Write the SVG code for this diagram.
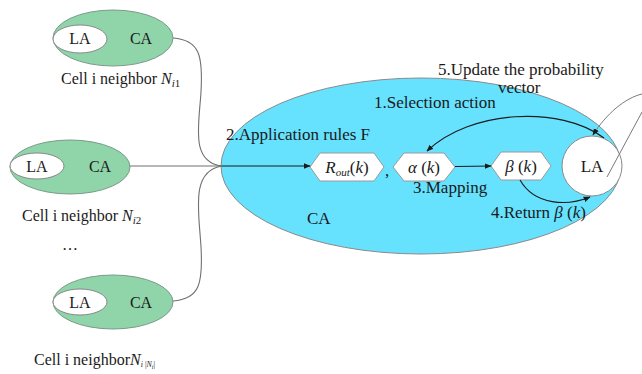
<svg xmlns="http://www.w3.org/2000/svg" width="642" height="374" viewBox="0 0 642 374" font-family="'Liberation Serif', 'Times New Roman', Times, serif">
  <style>
    text { font-family: 'Liberation Serif', 'Times New Roman', Times, serif; fill: #1a1a1a; }
    .lbl { font-size: 17px; }
    .small { font-size: 16px; }
    .it { font-style: italic; }
    .sub { font-size: 11px; }
    .cell { fill: #90d4a9; stroke: #7a9a88; stroke-width: 1; }
    .inner { fill: #ffffff; stroke: #888888; stroke-width: 1; }
    .hex { fill: #ffffff; stroke: #9a9a9a; stroke-width: 1; }
    .feed { fill: none; stroke: #707070; stroke-width: 1.1; }
    .flow { fill: none; stroke: #1a1a1a; stroke-width: 1.1; }
    .thin { fill: none; stroke: #7a7a7a; stroke-width: 1; }
  </style>
  <defs>
    <marker id="arr" viewBox="0 0 10 10" refX="9" refY="5" markerWidth="7" markerHeight="7" orient="auto" markerUnits="userSpaceOnUse">
      <path d="M0,1 L10,5 L0,9 Z" fill="#1a1a1a"/>
    </marker>
  </defs>

  <!-- central cell CA -->
  <g id="central-ca">
    <ellipse cx="421" cy="166" rx="200" ry="88" fill="#66e2ff" stroke="#8a8a8a" stroke-width="1"/>
    <text class="lbl" x="307" y="224">CA</text>
  </g>

  <!-- neighbor N_i1 -->
  <g id="neighbor-1">
    <ellipse class="cell" cx="113" cy="38" rx="60" ry="28"/>
    <ellipse class="inner" cx="80" cy="39" rx="27" ry="14"/>
    <text class="small" x="80" y="44" text-anchor="middle">LA</text>
    <text class="small" x="141" y="44" text-anchor="middle">CA</text>
    <text class="small" x="61" y="84">Cell i neighbor <tspan class="it">N</tspan><tspan class="sub" dy="3"><tspan class="it">i</tspan>1</tspan></text>
  </g>

  <!-- neighbor N_i2 -->
  <g id="neighbor-2">
    <ellipse class="cell" cx="70" cy="167" rx="60" ry="27"/>
    <ellipse class="inner" cx="37" cy="166" rx="27" ry="13"/>
    <text class="small" x="37" y="172" text-anchor="middle">LA</text>
    <text class="small" x="100" y="172" text-anchor="middle">CA</text>
    <text class="small" x="22" y="221">Cell i neighbor <tspan class="it">N</tspan><tspan class="sub" dy="3"><tspan class="it">i</tspan>2</tspan></text>
  </g>

  <text class="small" x="62" y="250">…</text>

  <!-- neighbor N_i|N_i| -->
  <g id="neighbor-n">
    <ellipse class="cell" cx="113" cy="302" rx="60" ry="27"/>
    <ellipse class="inner" cx="80" cy="302" rx="27" ry="13"/>
    <text class="small" x="80" y="308" text-anchor="middle">LA</text>
    <text class="small" x="141" y="308" text-anchor="middle">CA</text>
    <text class="small" x="34" y="365">Cell i neighbor<tspan class="it">N</tspan><tspan style="font-size:8px" dy="2"><tspan class="it">i</tspan> |<tspan class="it">N</tspan><tspan style="font-size:6px" dy="2"><tspan class="it">i</tspan></tspan><tspan dy="-2">|</tspan></tspan></text>
  </g>

  <!-- rule and action nodes -->
  <g id="node-rout">
    <polygon class="hex" points="310,167 320,153 374,153 384,167 374,181 320,181"/>
    <text class="lbl" x="347" y="173" text-anchor="middle"><tspan class="it">R</tspan><tspan class="sub it" dy="3">out</tspan><tspan dy="-3">(</tspan><tspan class="it">k</tspan>)</text>
  </g>
  <text class="lbl" x="385" y="176">,</text>
  <g id="node-alpha">
    <polygon class="hex" points="393,167 404,153 444,153 455,167 444,181 404,181"/>
    <text class="lbl" x="424" y="173" text-anchor="middle"><tspan class="it">α</tspan> (<tspan class="it">k</tspan>)</text>
  </g>
  <g id="node-beta">
    <polygon class="hex" points="491,166 501,152 541,152 551,166 541,180 501,180"/>
    <text class="lbl" x="521" y="172" text-anchor="middle"><tspan class="it">β</tspan> (<tspan class="it">k</tspan>)</text>
  </g>
  <g id="node-la">
    <circle cx="592" cy="166" r="30" fill="#ffffff" stroke="#8a8a8a" stroke-width="1"/>
    <text class="lbl" x="592" y="172" text-anchor="middle">LA</text>
  </g>

  <!-- connectors -->
  <g id="connectors">
    <path class="feed" d="M173,38 C200,40 203,56 201,92 C199,125 190,162 222,166"/>
    <path class="feed" d="M173,301 C200,299 203,283 201,247 C199,212 190,171 222,166"/>
    <path class="feed" d="M130,166 L222,166"/>
    <path class="flow" d="M222,166 L310,166" marker-end="url(#arr)"/>
    <path class="flow" d="M455,166.5 L491,166" marker-end="url(#arr)"/>
    <path class="flow" d="M604,138 C560,105 470,110 427,151" marker-end="url(#arr)"/>
    <path class="flow" d="M520,180 C535,206 568,206 590,197" marker-end="url(#arr)"/>
    <path class="thin" d="M642,94 C625,98 606,114 593,135" marker-end="url(#arr)"/>
    <path class="thin" d="M607,177 L642,112"/>
  </g>

  <!-- step labels -->
  <text class="lbl" x="438" y="75">5.Update the probability</text>
  <text class="lbl" x="498" y="93">vector</text>
  <text class="lbl" x="374" y="108">1.Selection action</text>
  <text class="lbl" x="226" y="140">2.Application rules F</text>
  <text class="lbl" x="413" y="193">3.Mapping</text>
  <text class="lbl" x="491" y="218">4.Return <tspan class="it">β</tspan> (<tspan class="it">k</tspan>)</text>
</svg>
